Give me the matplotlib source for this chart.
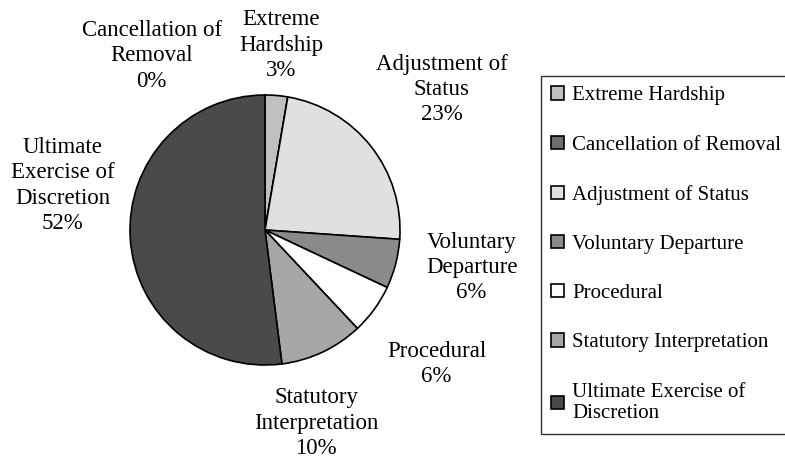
import matplotlib.pyplot as plt

# Share of decisions by issue (percent), clockwise from 12 o'clock
categories = [
    "Extreme Hardship",
    "Cancellation of Removal",
    "Adjustment of Status",
    "Voluntary Departure",
    "Procedural",
    "Statutory Interpretation",
    "Ultimate Exercise of Discretion",
]
shares = [2.7, 0.0, 23.4, 5.9, 6.0, 10.0, 52.0]
pct_labels = ["3%", "0%", "23%", "6%", "6%", "10%", "52%"]
slice_labels = [
    "Extreme\nHardship",
    "Cancellation of\nRemoval",
    "Adjustment of\nStatus",
    "Voluntary\nDeparture",
    "Procedural",
    "Statutory\nInterpretation",
    "Ultimate\nExercise of\nDiscretion",
]
legend_labels = [
    "Extreme Hardship",
    "Cancellation of Removal",
    "Adjustment of Status",
    "Voluntary Departure",
    "Procedural",
    "Statutory Interpretation",
    "Ultimate Exercise of\nDiscretion",
]

colors = ["#c0c0c0", "#6e6e6e", "#e0e0e0", "#8a8a8a", "#ffffff", "#a6a6a6", "#4a4a4a"]
# where each slice label sits, in units of the pie radius
label_xy = [(0.12, 1.37), (-0.84, 1.29), (1.31, 1.04), (1.53, -0.28),
            (1.27, -0.99), (0.38, -1.43), (-1.50, 0.33)]

plt.rcParams["font.family"] = ["Liberation Serif", "DejaVu Serif"]

W, H = 785, 463
cx, cy, R = 265, 230, 135

fig = plt.figure(figsize=(W / 100, H / 100), dpi=100)
ax = fig.add_axes([0, 0, 1, 1])

wedges, _ = ax.pie(
    shares,
    colors=colors,
    startangle=90,
    counterclock=False,
    radius=1,
    wedgeprops=dict(edgecolor="black", linewidth=1.2),
)
ax.set_xlim(-cx / R, (W - cx) / R)
ax.set_ylim(-(H - cy) / R, cy / R)
ax.axis("off")

for name, pct, (x, y) in zip(slice_labels, pct_labels, label_xy):
    ax.text(x, y, name + "\n" + pct, ha="center", va="center",
            fontsize=16.5, linespacing=1.26)

leg = fig.legend(
    wedges,
    legend_labels,
    loc="upper left",
    bbox_to_anchor=(541 / W, 1 - 76 / H),
    frameon=True,
    fancybox=False,
    edgecolor="black",
    fontsize=15,
    handlelength=0.6,
    handleheight=0.6,
    handletextpad=0.4,
    labelspacing=1.45,
    borderpad=0.5,
    borderaxespad=0,
)
leg.get_frame().set_linewidth(1.0)

fig.savefig("out.png", dpi=100)
